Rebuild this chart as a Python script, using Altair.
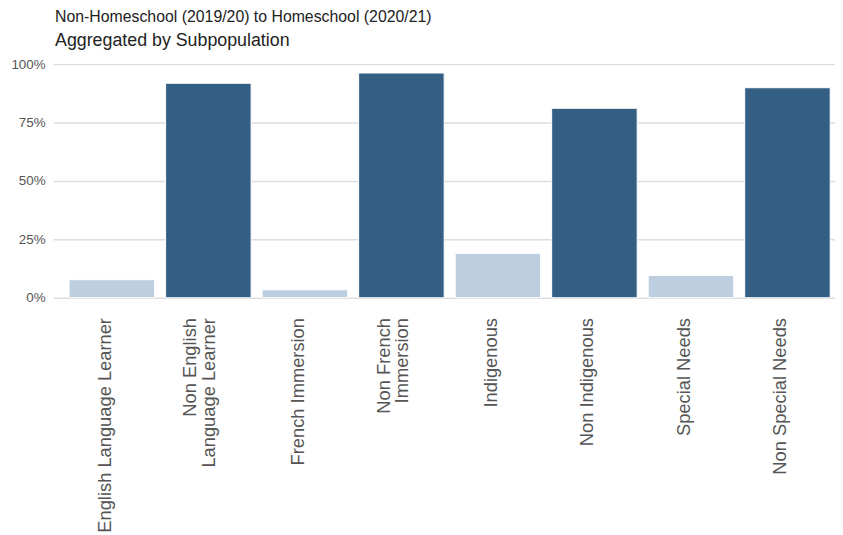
import altair as alt
import pandas as pd

categories = [
    "English Language Learner",
    "Non English\nLanguage Learner",
    "French Immersion",
    "Non French\nImmersion",
    "Indigenous",
    "Non Indigenous",
    "Special Needs",
    "Non Special Needs",
]
values = [0.077, 0.918, 0.034, 0.962, 0.190, 0.811, 0.095, 0.899]
groups = ["Sub", "Non", "Sub", "Non", "Sub", "Non", "Sub", "Non"]

df = pd.DataFrame({"cat": categories, "value": values, "group": groups})

bars = alt.Chart(df).mark_bar(stroke="white", strokeWidth=1).encode(
    x=alt.X(
        "cat:N",
        sort=categories,
        title=None,
        scale=alt.Scale(paddingInner=0.114, paddingOuter=0.108, align=0.77),
        axis=alt.Axis(
            labelAngle=-90,
            labelAlign="right",
            labelBaseline="bottom",
            labelOffset={
                "condition": {"test": "indexof(datum.label, '\\n') >= 0", "value": -8},
                "value": 3,
            },
            labelExpr="split(datum.label, '\\n')",
            labelFont="Liberation Sans",
            labelFontSize=18.5,
            labelColor="#555555",
            labelPadding=20,
            labelLineHeight=18.5,
            ticks=False,
            domain=False,
            grid=False,
            labelLimit=300,
        ),
    ),
    y=alt.Y(
        "value:Q",
        title=None,
        scale=alt.Scale(domain=[0, 1], nice=False),
        axis=alt.Axis(
            format=".0%",
            values=[0, 0.25, 0.5, 0.75, 1.0],
            labelFont="Liberation Sans",
            labelFontSize=13.5,
            labelColor="#555555",
            labelPadding=8,
            ticks=False,
            domain=False,
            gridColor="#dddddd",
            gridWidth=1.5,
        ),
    ),
    color=alt.Color(
        "group:N",
        scale=alt.Scale(domain=["Sub", "Non"], range=["#bccee0", "#345f85"]),
        legend=None,
    ),
)

chart = bars.properties(
    width=790,
    height=236,
    padding={"left": 2.5, "top": -2, "right": 0, "bottom": 0},
    title=alt.TitleParams(
        text="Non-Homeschool (2019/20) to Homeschool (2020/21)",
        subtitle="Aggregated by Subpopulation",
        anchor="start",
        frame="group",
        dx=2,
        dy=-10,
        font="Liberation Sans",
        fontSize=16,
        fontWeight="normal",
        color="#222222",
        subtitleFont="Liberation Sans",
        subtitleFontSize=18,
        subtitleColor="#222222",
        subtitlePadding=8,
        offset=-3,
    ),
).configure_view(stroke=None)

chart.save("out.html", embed_options={"renderer": "svg", "actions": False})
